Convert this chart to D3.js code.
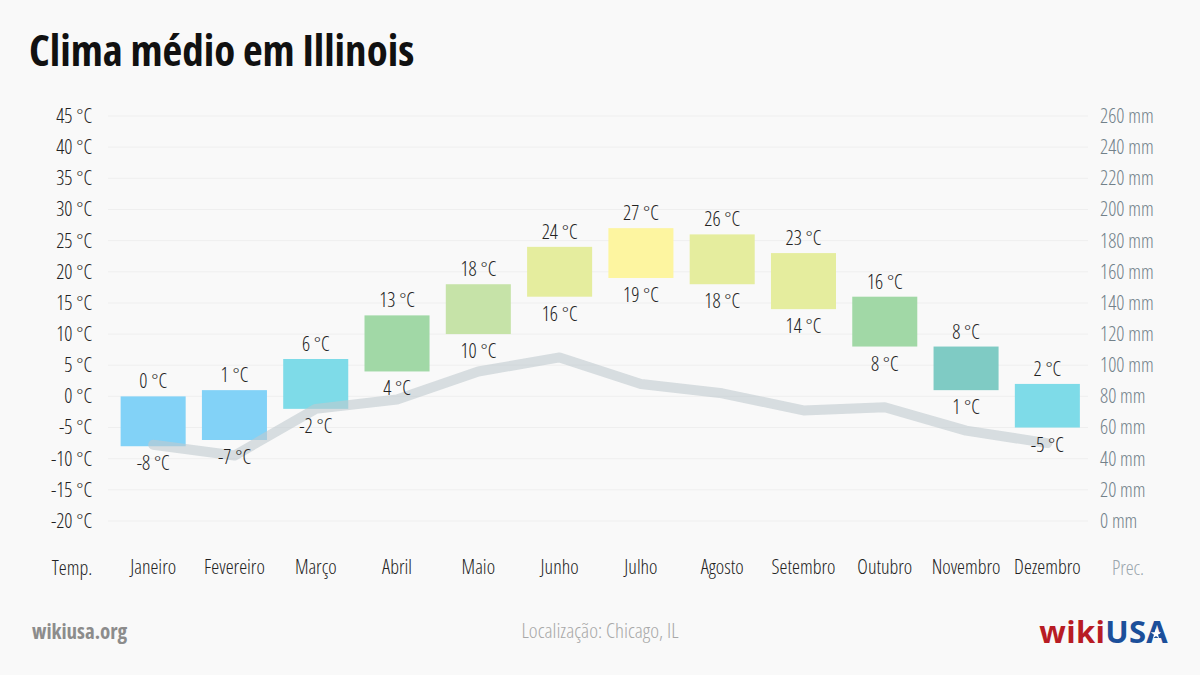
<!DOCTYPE html>
<html><head><meta charset="utf-8">
<script src="https://cdn.jsdelivr.net/npm/d3@7"></script>
<style>
body{margin:0;background:#f9f9f9;}
svg{display:block;font-family:"Open Sans",sans-serif;font-stretch:condensed;}
</style></head>
<body><svg id="c" width="1200" height="675"></svg>
<script>
const months = ["Janeiro","Fevereiro","Março","Abril","Maio","Junho","Julho","Agosto","Setembro","Outubro","Novembro","Dezembro"];
const tempHigh = [0,1,6,13,18,24,27,26,23,16,8,2];
const tempLow = [-8,-7,-2,4,10,16,19,18,14,8,1,-5];
const precip = [49,42,72,78,96,105,88,82,71,73,58,50];
const barColors = ["#82d2f7","#82d2f7","#7edbe8","#a1d8a6","#c6e3a8","#e5ed9e","#fdf5a0","#e5ed9e","#e5ed9e","#a1d8a6","#7fcbc4","#7edbe8"];
const tempTicks = [45,40,35,30,25,20,15,10,5,0,-5,-10,-15,-20];
const precTicks = [260,240,220,200,180,160,140,120,100,80,60,40,20,0];

const FS = 20, FW = 350;
const svg = d3.select("#c");
svg.append("rect").attr("width",1200).attr("height",675).attr("fill","#f9f9f9");

const x = d3.scaleBand().domain(months).range([112.5,1088]).paddingInner(0.2).paddingOuter(0.1);
const yT = d3.scaleLinear().domain([-20,45]).range([521,116]);
const yP = d3.scaleLinear().domain([0,260]).range([521,116]);

// title
svg.append("text").attr("x",29).attr("y",66).attr("font-size",43).attr("font-weight",700)
  .attr("fill","#111").text("Clima médio em Illinois");

// gridlines
svg.append("g").selectAll("line").data(tempTicks).join("line")
  .attr("x1",108).attr("x2",1088).attr("y1",d=>yT(d)).attr("y2",d=>yT(d))
  .attr("stroke","#efefef").attr("stroke-width",1);

function styleAxis(g, color){
  g.select(".domain").remove();
  g.selectAll("text").attr("font-size",FS).attr("font-weight",FW).attr("fill",color)
   .attr("font-family","'Open Sans',sans-serif").style("font-stretch","condensed");
}
// left axis
const axL = svg.append("g").attr("transform","translate(92,0)")
  .call(d3.axisLeft(yT).tickValues(tempTicks).tickSize(0).tickPadding(0).tickFormat(d=>d+" °C"));
styleAxis(axL,"#222");

// right axis
const axR = svg.append("g").attr("transform","translate(1100,0)")
  .call(d3.axisRight(yP).tickValues(precTicks).tickSize(0).tickPadding(0).tickFormat(d=>d+" mm"));
styleAxis(axR,"#72818a");

// bars
svg.append("g").selectAll("rect").data(months).join("rect")
  .attr("x",d=>x(d)).attr("width",x.bandwidth())
  .attr("y",(d,i)=>yT(tempHigh[i])).attr("height",(d,i)=>yT(tempLow[i])-yT(tempHigh[i]))
  .attr("fill",(d,i)=>barColors[i]);

// precip line
const line = d3.line().x((d,i)=>x(months[i])+x.bandwidth()/2).y(d=>yP(d)).curve(d3.curveLinear);
svg.append("path").datum(precip).attr("d",line).attr("fill","none")
  .attr("stroke","#bfc9cf").attr("stroke-opacity",0.6).attr("stroke-width",10)
  .attr("stroke-linecap","round").attr("stroke-linejoin","round");

// labels
const lab = svg.append("g").attr("font-size",FS).attr("font-weight",FW).attr("fill","#222").attr("text-anchor","middle");
lab.selectAll("text.h").data(months).join("text").attr("class","h")
  .attr("x",d=>x(d)+x.bandwidth()/2).attr("y",(d,i)=>yT(tempHigh[i])-8)
  .text((d,i)=>tempHigh[i]+" °C");
lab.selectAll("text.l").data(months).join("text").attr("class","l")
  .attr("x",d=>x(d)+x.bandwidth()/2).attr("y",(d,i)=>yT(tempLow[i])+24)
  .text((d,i)=>tempLow[i]+" °C");

// x axis labels
const axB = svg.append("g").attr("transform","translate(0,568)")
  .call(d3.axisBottom(x).tickSize(0).tickPadding(0));
styleAxis(axB,"#222");
axB.selectAll("text").attr("dy","0.32em");
svg.append("text").attr("x",72).attr("y",575).attr("text-anchor","middle").attr("font-size",FS).attr("font-weight",FW).attr("fill","#222").text("Temp.");
svg.append("text").attr("x",1128).attr("y",575).attr("text-anchor","middle").attr("font-size",FS).attr("font-weight",FW).attr("fill","#9aa6ad").text("Prec.");

// footer
svg.append("text").attr("x",32).attr("y",639).attr("font-size",21).attr("font-weight",700).attr("fill","#8c8c8c").text("wikiusa.org");
svg.append("text").attr("x",600).attr("y",638).attr("text-anchor","middle").attr("font-size",21).attr("font-weight",300).attr("fill","#a8a8a8").text("Localização: Chicago, IL");
const logo = svg.append("text").attr("x",1168).attr("y",643).attr("text-anchor","end").attr("font-size",31).attr("font-weight",700).style("font-stretch","normal").attr("letter-spacing",0.3);
logo.append("tspan").attr("fill","#b81c24").text("wiki");
logo.append("tspan").attr("fill","#1c4f9a").text("USA");
// star in the A
const star = d3.symbol().type(d3.symbolStar).size(34);
svg.append("path").attr("d",star()).attr("transform","translate(1156,634)").attr("fill","#ffffff");
</script></body></html>
